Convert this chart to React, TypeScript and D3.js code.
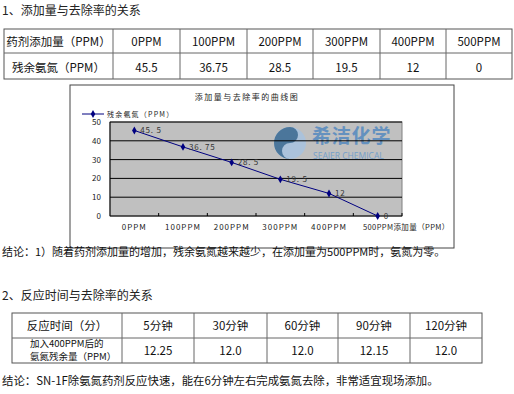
import * as d3 from "d3";

const doses = ["0PPM", "100PPM", "200PPM", "300PPM", "400PPM", "500PPM"];
const residual = [45.5, 36.75, 28.5, 19.5, 12, 0];
const residualLabels = ["45. 5", "36. 75", "28. 5", "19. 5", "12", "0"];
const yTicks = [0, 10, 20, 30, 40, 50];
const times = ["5分钟", "30分钟", "60分钟", "90分钟", "120分钟"];
const timeResidual = ["12.25", "12.0", "12.0", "12.15", "12.0"];

const CJK = "'Noto Sans CJK SC', 'Noto Sans', sans-serif";

function Table1() {
  const cols = [4, 113, 180, 247, 313, 380, 446, 512];
  const rows = [29, 53, 79];
  const heads = ["药剂添加量（PPM）", ...doses];
  const vals = ["残余氨氮（PPM）", ...residual.map(String)];
  return (
    <g fontFamily={CJK} fontSize={11.5} fill="#111">
      <rect x={cols[0]} y={rows[0]} width={cols[7] - cols[0]} height={rows[2] - rows[0]} fill="#fff" stroke="#555" />
      <line x1={cols[0]} x2={cols[7]} y1={rows[1]} y2={rows[1]} stroke="#666" />
      {cols.slice(1, -1).map((c, i) => (
        <line key={i} x1={c} x2={c} y1={rows[0]} y2={rows[2]} stroke="#666" />
      ))}
      {heads.map((t, i) => (
        <text key={"h" + i} x={(cols[i] + cols[i + 1]) / 2} y={45.5} textAnchor="middle">{t}</text>
      ))}
      {vals.map((t, i) => (
        <text key={"v" + i} x={(cols[i] + cols[i + 1]) / 2} y={71.5} textAnchor="middle">{t}</text>
      ))}
    </g>
  );
}

function Table2() {
  const cols = [12, 122, 194, 267, 338, 410, 482];
  const rows = [313, 338, 363];
  return (
    <g fontFamily={CJK} fontSize={11.5} fill="#111">
      <rect x={cols[0]} y={rows[0]} width={cols[6] - cols[0]} height={rows[2] - rows[0]} fill="#fff" stroke="#555" />
      <line x1={cols[0]} x2={cols[6]} y1={rows[1]} y2={rows[1]} stroke="#666" />
      {cols.slice(1, -1).map((c, i) => (
        <line key={i} x1={c} x2={c} y1={rows[0]} y2={rows[2]} stroke="#666" />
      ))}
      {["反应时间（分）", ...times].map((t, i) => (
        <text key={"h" + i} x={(cols[i] + cols[i + 1]) / 2} y={329.5} textAnchor="middle">{t}</text>
      ))}
      <text x={30} y={347} fontSize={9.5}>加入400PPM后的</text>
      <text x={30} y={359.5} fontSize={9.5}>氨氮残余量（PPM）</text>
      {timeResidual.map((t, i) => (
        <text key={"v" + i} x={(cols[i + 1] + cols[i + 2]) / 2} y={355} textAnchor="middle">{t}</text>
      ))}
    </g>
  );
}

function Logo({ cx, cy, r }: { cx: number; cy: number; r: number }) {
  const dark = `M${cx},${cy - r} A${r},${r} 0 0 0 ${cx},${cy + r} A${r / 2},${r / 2} 0 0 1 ${cx},${cy} A${r / 2},${r / 2} 0 0 0 ${cx},${cy - r} Z`;
  return (
    <g>
      <circle cx={cx} cy={cy} r={r} fill="#a9c3de" />
      <path d={dark} fill="#3f6f98" />
    </g>
  );
}

function Chart() {
  const x = d3.scaleBand<string>().domain(doses).range([110, 402]);
  const y = d3.scaleLinear().domain([0, 50]).range([216, 122]);
  const pts = doses.map((d, i) => [x(d)! + x.bandwidth() / 2, y(residual[i])] as [number, number]);
  const line = d3.line()(pts) || "";
  const diamond = d3.symbol().type(d3.symbolDiamond).size(18)() || "";
  const tickXs = doses.slice(1).map((d) => x(d)!);
  const small = { fontFamily: CJK, fontSize: 8, fill: "#222" } as const;
  return (
    <g>
      <rect x={70} y={85} width={384} height={163} fill="#fff" stroke="#444" />
      <text {...small} x={247} y={100} textAnchor="middle" letterSpacing={1.5}>添加量与去除率的曲线图</text>
      <line x1={82} x2={104} y1={114} y2={114} stroke="#000080" />
      <path d={diamond} transform="translate(93,114)" fill="#000080" />
      <text {...small} x={107} y={117} fontSize={7} letterSpacing={1.2}>残余氨氮（PPM）</text>
      <rect x={110} y={122} width={292} height={94} fill="#c0c0c0" stroke="#808080" />
      <g opacity={0.9}>
        <Logo cx={290} cy={143} r={16} />
        <text x={312} y={143} fontFamily={CJK} fontWeight={700} fontSize={19} fill="#5b8dbf" letterSpacing={0.8}>希洁化学</text>
        <text x={313} y={158.5} fontFamily="'Open Sans', sans-serif" fontSize={8.5} fill="#6d9ccb">SEAJER CHEMICAL</text>
      </g>
      {yTicks.slice(1).map((t) => (
        <line key={t} x1={110} x2={402} y1={y(t)} y2={y(t)} stroke="#000" />
      ))}
      <line x1={110} x2={110} y1={122} y2={216} stroke="#000" />
      <line x1={110} x2={402} y1={216} y2={216} stroke="#000" />
      {tickXs.map((tx, i) => (
        <line key={i} x1={tx} x2={tx} y1={213} y2={216} stroke="#000" />
      ))}
      <line x1={402} x2={402} y1={213} y2={216} stroke="#000" />
      {yTicks.map((t) => (
        <text key={t} {...small} x={101} y={y(t) + 3} textAnchor="end">{t}</text>
      ))}
      {doses.slice(0, 5).map((d) => (
        <text key={d} {...small} x={x(d)! + x.bandwidth() / 2} y={230} textAnchor="middle" letterSpacing={1}>{d}</text>
      ))}
      <text {...small} x={363} y={230} fontSize={7.5} letterSpacing={0.4}>500PPM添加量（PPM）</text>
      <path d={line} fill="none" stroke="#000080" strokeWidth={1} />
      {pts.map((p, i) => (
        <g key={i}>
          <path d={diamond} transform={`translate(${p[0]},${p[1]})`} fill="#000080" />
          <text {...small} x={p[0] + 6} y={p[1] + 3} fill="#333" letterSpacing={0.8}>{residualLabels[i]}</text>
        </g>
      ))}
    </g>
  );
}

export default function App() {
  return (
    <svg
      width={514}
      height={394}
      style={{ position: "absolute", left: 0, top: 0, background: "#fff" }}
    >
      <text x={2} y={15} fontFamily={CJK} fontSize={12} fill="#222">1、添加量与去除率的关系</text>
      <Table1 />
      <Chart />
      <text x={2} y={256} fontFamily={CJK} fontSize={11} fill="#111">结论：1）随着药剂添加量的增加，残余氨氮越来越少，在添加量为500PPM时，氨氮为零。</text>
      <text x={2} y={300} fontFamily={CJK} fontSize={12} fill="#222">2、反应时间与去除率的关系</text>
      <Table2 />
      <text x={2} y={385} fontFamily={CJK} fontSize={11.4} fill="#111">结论：SN-1F除氨氮药剂反应快速，能在6分钟左右完成氨氮去除，非常适宜现场添加。</text>
    </svg>
  );
}
